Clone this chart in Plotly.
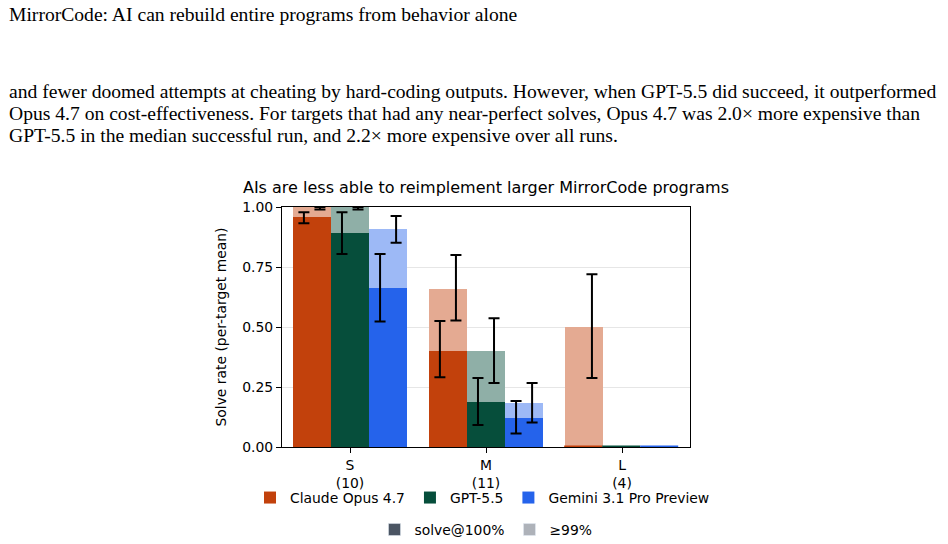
import plotly.graph_objects as go

# ---------------- data ----------------
categories = ["S", "M", "L"]
target_counts = [10, 11, 4]
models = ["Claude Opus 4.7", "GPT-5.5", "Gemini 3.1 Pro Preview"]

# solve@100% (dark) and >=99% (light) per-target mean solve rates
claude_100 = [0.96, 0.40, 0.0]
claude_99 = [1.0, 0.66, 0.50]
gpt_100 = [0.893, 0.187, 0.0]
gpt_99 = [1.0, 0.40, 0.0]
gemini_100 = [0.662, 0.12, 0.0]
gemini_99 = [0.908, 0.182, 0.0]

# confidence intervals (lower, upper); None = no error bar drawn
claude_100_lo = [0.932, 0.291, None]
claude_100_hi = [0.978, 0.525, None]
claude_99_lo = [0.99, 0.527, 0.288]
claude_99_hi = [1.0, 0.80, 0.72]
gpt_100_lo = [0.804, 0.092, None]
gpt_100_hi = [0.978, 0.287, None]
gpt_99_lo = [0.99, 0.267, None]
gpt_99_hi = [1.0, 0.536, None]
gemini_100_lo = [0.523, 0.056, None]
gemini_100_hi = [0.804, 0.192, None]
gemini_99_lo = [0.851, 0.102, None]
gemini_99_hi = [0.963, 0.267, None]

y_ticks = [0.0, 0.25, 0.50, 0.75, 1.00]
y_tick_labels = ["0.00", "0.25", "0.50", "0.75", "1.00"]

page_title = "MirrorCode: AI can rebuild entire programs from behavior alone"
paragraph_lines = [
    "and fewer doomed attempts at cheating by hard-coding outputs. However, when GPT-5.5 did succeed, it outperformed",
    "Opus 4.7 on cost-effectiveness. For targets that had any near-perfect solves, Opus 4.7 was 2.0\u00d7 more expensive than",
    "GPT-5.5 in the median successful run, and 2.2\u00d7 more expensive over all runs.",
]
chart_title = "AIs are less able to reimplement larger MirrorCode programs"
y_title = "Solve rate (per-target mean)"

# ---------------- style ----------------
dark_colors = ["#C2410C", "#064E3B", "#2563EB"]
ALPHA = 0.45
legend2_dark = "#4B5563"


def lighten(hex_color, a=ALPHA):
    h = hex_color.lstrip("#")
    r, g, b = (int(h[i:i + 2], 16) for i in (0, 2, 4))
    mix = lambda c: round(255 - a * (255 - c))
    return f"rgb({mix(r)},{mix(g)},{mix(b)})"


W, H = 948, 544
L, R, T, B = 282, 690, 207, 447
CHART_FONT = "DejaVu Sans"
PAGE_FONT = "Liberation Serif"
FS = 13.9
PAGE_FS = 19.6


def px_x(px):
    return (px - L) / (R - L)


def px_y(py):
    return (B - py) / (B - T)


BAR_W = 0.28
offsets = [-0.42, -0.14, 0.14]  # left edges of bars relative to category
ERR_SHIFT = 0.059

fig = go.Figure()
xs = list(range(len(categories)))

series = [
    (claude_100, claude_99, claude_100_lo, claude_100_hi, claude_99_lo, claude_99_hi),
    (gpt_100, gpt_99, gpt_100_lo, gpt_100_hi, gpt_99_lo, gpt_99_hi),
    (gemini_100, gemini_99, gemini_100_lo, gemini_100_hi, gemini_99_lo, gemini_99_hi),
]

for m, (v100, v99, lo100, hi100, lo99, hi99) in enumerate(series):
    dark = dark_colors[m]
    light = lighten(dark)
    fig.add_trace(go.Bar(
        x=xs, y=v99, offset=offsets[m], width=BAR_W,
        marker=dict(color=light, line=dict(width=0)),
        showlegend=False, hoverinfo="skip",
    ))
    fig.add_trace(go.Bar(
        x=xs, y=v100, offset=offsets[m], width=BAR_W, name=models[m],
        marker=dict(color=dark, line=dict(color=dark,
                                          width=[1.6 if v == 0 else 0 for v in v100])),
        legend="legend", hoverinfo="skip",
    ))

# error bars (after all bars so they sit on top)
for m, (v100, v99, lo100, hi100, lo99, hi99) in enumerate(series):
    center = offsets[m] + BAR_W / 2
    for vals, lo, hi, shift in ((v100, lo100, hi100, -ERR_SHIFT), (v99, lo99, hi99, ERR_SHIFT)):
        ex, ey, up, dn = [], [], [], []
        for i, v in enumerate(vals):
            if lo[i] is None:
                continue
            ex.append(i + center + shift)
            ey.append(v)
            up.append(hi[i] - v)
            dn.append(v - lo[i])
        fig.add_trace(go.Scatter(
            x=ex, y=ey, mode="markers",
            marker=dict(size=1, color="rgba(0,0,0,0)"),
            error_y=dict(type="data", symmetric=False, array=up, arrayminus=dn,
                         color="black", thickness=2, width=5.5),
            showlegend=False, hoverinfo="skip", cliponaxis=False,
        ))

# legend 2 keys
fig.add_trace(go.Bar(x=[None], y=[None], name="solve@100%",
                     marker=dict(color=legend2_dark), legend="legend2"))
fig.add_trace(go.Bar(x=[None], y=[None], name="\u226599%",
                     marker=dict(color=lighten(legend2_dark)), legend="legend2"))

axis_common = dict(showline=True, mirror=True, linecolor="black", linewidth=1.3,
                   ticks="outside", ticklen=5, tickwidth=1.3, tickcolor="black",
                   zeroline=False, tickfont=dict(family=CHART_FONT, size=FS, color="black"))

legend_font = dict(family=CHART_FONT, size=FS, color="black")

fig.update_layout(
    width=W, height=H,
    margin=dict(l=L, r=W - R, t=T, b=H - B, pad=0, autoexpand=False),
    paper_bgcolor="white", plot_bgcolor="white",
    barmode="overlay", bargap=0,
    font=dict(family=CHART_FONT, size=FS, color="black"),
    title=dict(text=chart_title, xref="container", x=486 / W, xanchor="center",
               yref="container", y=1 - 187 / H, yanchor="middle",
               font=dict(family=CHART_FONT, size=16, color="black")),
    xaxis=dict(range=[-0.5, 2.5], tickvals=xs,
               ticktext=[f"{c}<br>({n})" for c, n in zip(categories, target_counts)],
               showgrid=False, **axis_common),
    yaxis=dict(range=[0, 1], tickvals=y_ticks, ticktext=y_tick_labels,
               showgrid=True, gridcolor="#E6E6E6", gridwidth=1.4,
               title=dict(text=y_title, standoff=12,
                          font=dict(family=CHART_FONT, size=FS, color="black")),
               **axis_common),
    # left-anchored just outside the plot area so the row may use the left margin
    legend=dict(orientation="h", xref="paper", yref="paper",
                x=px_x(250), xanchor="left", y=px_y(498), yanchor="middle",
                font=legend_font, bgcolor="rgba(0,0,0,0)", traceorder="normal"),
    legend2=dict(orientation="h", xref="paper", yref="paper",
                 x=px_x(486), xanchor="center", y=px_y(530), yanchor="middle",
                 font=legend_font, bgcolor="rgba(0,0,0,0)", traceorder="normal"),
)

# page text above the chart (centers computed from baselines)
base_off = 0.34 * PAGE_FS
annotations = [dict(text=page_title, x=px_x(7), y=px_y(21 - base_off))]
for i, line in enumerate(paragraph_lines):
    annotations.append(dict(text=line, x=px_x(7), y=px_y(98 + i * 22 - base_off)))
for a in annotations:
    fig.add_annotation(xref="paper", yref="paper", xanchor="left", yanchor="middle",
                       showarrow=False, align="left",
                       font=dict(family=PAGE_FONT, size=PAGE_FS, color="black"), **a)

fig.write_html("out.html")
